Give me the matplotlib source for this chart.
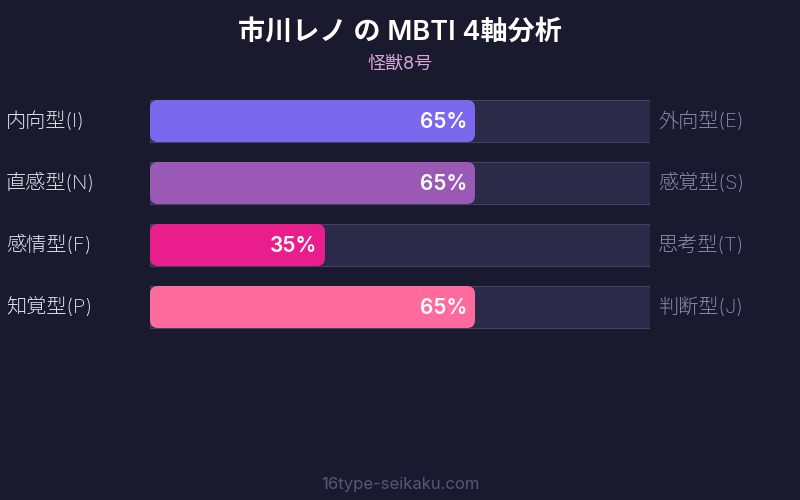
import matplotlib.pyplot as plt
from matplotlib.patches import FancyBboxPatch

plt.rcParams['font.family'] = ['Inter', 'Noto Sans CJK JP', 'DejaVu Sans']

title = "市川レノ の MBTI 4軸分析"
subtitle = "怪獣8号"
footer = "16type-seikaku.com"
left_labels = ["内向型(I)", "直感型(N)", "感情型(F)", "知覚型(P)"]
right_labels = ["外向型(E)", "感覚型(S)", "思考型(T)", "判断型(J)"]
values = [65, 65, 35, 65]
colors = ["#7b68ee", "#9b59b6", "#e91e8c", "#ff6b9d"]

BG = "#1a1a2e"
W, H = 800, 500
row_px = 62
bar_h = 42 / row_px

fig = plt.figure(figsize=(8, 5), dpi=100)
fig.patch.set_facecolor(BG)

# bar area: x 150..650 px, rows centred at 121 + 62*i px
ax = fig.add_axes([150 / W, 1 - 338 / H, 500 / W, 248 / H])
ax.set_xlim(0, 100)
ax.set_ylim(len(values) - 0.5, -0.5)
ax.axis('off')

ys = list(range(len(values)))
ax.barh(ys, [100] * len(values), height=bar_h, left=0,
        color="#2b2a48", edgecolor="#43416a", linewidth=0.8)

rad = 8 / 5  # 8 px in x units (5 px per unit)
aspect = (1 / row_px) / (1 / 5)
for y, v, c in zip(ys, values, colors):
    box = FancyBboxPatch((0, y - bar_h / 2), v, bar_h,
                         boxstyle=f"round,pad=0,rounding_size={rad}",
                         mutation_aspect=aspect, facecolor=c, edgecolor='none')
    ax.add_patch(box)
    ax.text(v - 1.6, y + 0.02, f"{v}%", ha='right', va='center',
            color='white', fontsize=15, fontweight='semibold')

for y, lt, rt in zip(ys, left_labels, right_labels):
    ax.annotate(lt, (0, y), xycoords='data', xytext=(-144, 0),
                textcoords='offset pixels', ha='left', va='center',
                color='#e6e6ee', fontsize=14.5, fontweight='light')
    ax.annotate(rt, (100, y), xycoords='data', xytext=(8, 0),
                textcoords='offset pixels', ha='left', va='center',
                color='#8c8ca6', fontsize=14.5, fontweight='light')

fig.text(0.5, 1 - 33 / H, title, ha='center', va='center', color='white',
         fontsize=19.5, fontweight='semibold')
fig.text(0.5, 1 - 64 / H, subtitle, ha='center', va='center', color='#d9a6d9',
         fontsize=13)
fig.text(0.5, 1 - 485 / H, footer, ha='center', va='center', color='#56567a',
         fontsize=12)

fig.savefig("out.png", dpi=100, facecolor=BG)
